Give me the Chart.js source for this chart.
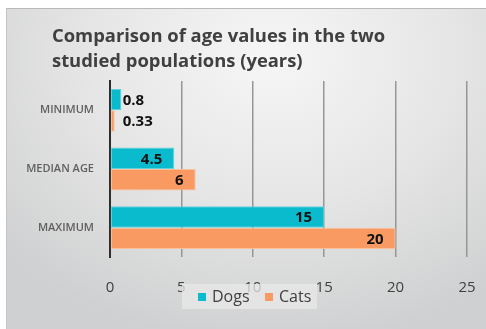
<!DOCTYPE html>
<html>
<head>
<meta charset="utf-8">
<script src="https://cdn.jsdelivr.net/npm/chart.js@4.4.1/dist/chart.umd.min.js"></script>
<style>
  html, body { margin: 0; padding: 0; background: #fff; }
  .wrap { position: relative; width: 486px; height: 329px; }
  .panel {
    position: absolute; left: 6px; top: 8px; right: 0; bottom: 0;
    border-top: 1px solid #b9b9b9; border-left: 1px solid #c4c4c4;
    background: radial-gradient(ellipse 75% 90% at 55% 15%, #f6f6f6 0%, #e6e6e6 50%, #cfd0d1 100%);
  }
  canvas { position: absolute; left: 0; top: 0; }
</style>
</head>
<body>
<div class="wrap">
  <div class="panel"></div>
  <canvas id="chart" width="486" height="329"></canvas>
</div>
<script>
// --- Datos ---
const categories = ["MINIMUM", "MEDIAN AGE", "MAXIMUM"];
const dogs = [0.8, 4.5, 15];
const cats = [0.33, 6, 20];
const xTicks = [0, 5, 10, 15, 20, 25];
const seriesNames = ["Dogs", "Cats"];
const titleLines = ["Comparison of age values in the two", "studied populations (years)"];

const COLORS = { dogs: "#0abacd", cats: "#f89a62" };
const FONT = "'Open Sans'";

// título a la izquierda (x=52), independiente del área del eje
const leftTitle = {
  id: "leftTitle",
  afterDraw(chart) {
    const ctx = chart.ctx;
    ctx.save();
    ctx.font = `bold 18.4px ${FONT}`;
    ctx.fillStyle = "#404040";
    ctx.textAlign = "left";
    ctx.textBaseline = "alphabetic";
    ctx.fillText(titleLines[0], 52, 42);
    ctx.fillText(titleLines[1], 52, 67);
    ctx.restore();
  },
};

// etiquetas de valor sobre las barras
const valueLabels = {
  id: "valueLabels",
  afterDatasetsDraw(chart) {
    const ctx = chart.ctx;
    ctx.save();
    ctx.font = `bold 15px ${FONT}`;
    ctx.fillStyle = "#111";
    ctx.textBaseline = "middle";
    chart.data.datasets.forEach((ds, i) => {
      chart.getDatasetMeta(i).data.forEach((bar, j) => {
        const v = ds.data[j];
        const w = bar.x - bar.base;
        if (w < 30) {
          ctx.textAlign = "left";
          ctx.fillText(String(v), bar.base + 12, bar.y + 1);
        } else {
          ctx.textAlign = "right";
          ctx.fillText(String(v), bar.x - 12, bar.y + 1);
        }
      });
    });
    ctx.restore();
  },
};

// leyenda semitransparente encima de las etiquetas del eje
const overlayLegend = {
  id: "overlayLegend",
  afterDraw(chart) {
    const ctx = chart.ctx;
    ctx.save();
    ctx.fillStyle = "rgba(232,232,232,0.75)";
    ctx.fillRect(182, 284, 135, 25);
    ctx.font = `16px ${FONT}`;
    ctx.textBaseline = "middle";
    ctx.textAlign = "left";
    const items = [
      { x: 198, color: COLORS.dogs, text: seriesNames[0] },
      { x: 265, color: COLORS.cats, text: seriesNames[1] },
    ];
    for (const it of items) {
      ctx.fillStyle = it.color;
      ctx.fillRect(it.x, 293, 8, 8);
      ctx.fillStyle = "#404040";
      ctx.fillText(it.text, it.x + 14, 297);
    }
    ctx.restore();
  },
};

function draw() {
  new Chart(document.getElementById("chart"), {
    type: "bar",
    data: {
      labels: categories,
      datasets: [
        { label: seriesNames[0], data: dogs, backgroundColor: COLORS.dogs, borderColor: "#5fd3e0", borderWidth: 1, borderSkipped: false },
        { label: seriesNames[1], data: cats, backgroundColor: COLORS.cats, borderColor: "#fbc09a", borderWidth: 1, borderSkipped: false },
      ],
    },
    plugins: [valueLabels, overlayLegend, leftTitle],
    options: {
      indexAxis: "y",
      responsive: false,
      animation: false,
      devicePixelRatio: 1,
      layout: { padding: { left: 10, right: 19, top: 81, bottom: 0 } },
      datasets: { bar: { categoryPercentage: 0.73, barPercentage: 1 } },
      plugins: {
        legend: { display: false },
        tooltip: { enabled: false },
        title: { display: false },
      },
      scales: {
        x: {
          min: 0,
          max: 25,
          afterBuildTicks: s => { s.ticks = xTicks.map(v => ({ value: v })); },
          afterFit: s => { s.height = 72; s.paddingLeft = 0; s.paddingRight = 0; },
          grid: { color: "#969696", lineWidth: 1.5, drawTicks: false },
          border: { display: false },
          ticks: { color: "#404040", padding: 22, font: { family: FONT, size: 15 } },
        },
        y: {
          afterFit: s => { s.width = 100; s.paddingTop = 0; s.paddingBottom = 0; },
          grid: { display: false, drawTicks: false },
          border: { display: true, color: "#2d2d2d", width: 2 },
          ticks: { color: "#606060", padding: 16, font: { family: FONT, size: 11, weight: "600" } },
        },
      },
    },
  });
}

Promise.all([
  document.fonts.load(`bold 18.4px ${FONT}`),
  document.fonts.load(`600 11px ${FONT}`),
  document.fonts.load(`16px ${FONT}`),
]).then(draw, draw);
</script>
</body>
</html>
